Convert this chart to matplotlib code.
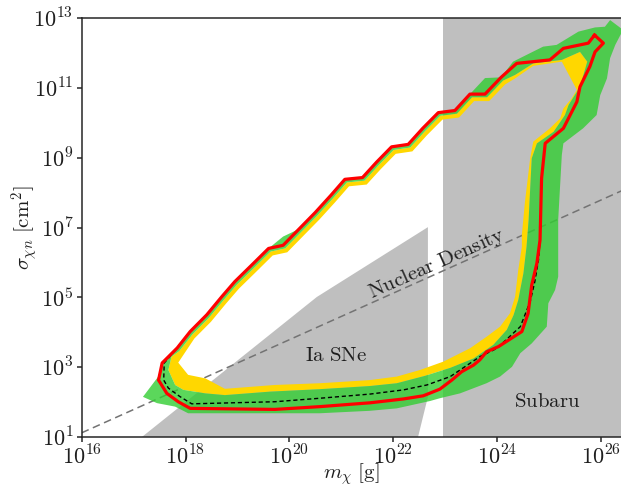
import numpy as np
import matplotlib
matplotlib.use('Agg')
import matplotlib.pyplot as plt
from matplotlib.path import Path
from matplotlib.patches import PathPatch, Polygon
from matplotlib.ticker import FixedLocator, FuncFormatter, NullLocator

plt.rcParams['mathtext.fontset'] = 'cm'
plt.rcParams['font.family'] = 'serif'

# all values are log10(m_chi / g), log10(sigma / cm^2)

# red contour (closed loop, starts at the top-right tip)
red_logm = [25.88, 25.76, 25.28, 25.02, 24.38, 24.08, 23.77, 23.48, 23.19, 22.87,
            22.57, 22.29, 21.97, 21.68, 21.41, 21.07, 20.80, 20.50, 20.19, 19.88,
            19.60, 19.28, 18.95, 18.70, 18.41, 18.09, 17.84, 17.55, 17.48, 17.64,
            17.86, 18.09, 19.72, 20.59, 21.56, 22.20, 22.58, 22.90, 23.13, 23.32,
            23.55, 23.67, 23.80, 24.03, 24.48, 24.60, 24.67, 24.77, 24.83, 24.86,
            24.93, 25.28, 25.54, 25.60, 25.79, 25.89, 26.05]
red_logs = [12.51, 12.28, 12.13, 11.80, 11.70, 11.30, 10.82, 10.82, 10.35, 10.29,
            9.84, 9.38, 9.31, 8.87, 8.43, 8.38, 7.92, 7.43, 6.96, 6.49,
            6.40, 5.93, 5.45, 5.02, 4.50, 4.02, 3.55, 3.12, 2.63, 2.25,
            2.01, 1.82, 1.79, 1.87, 1.98, 2.09, 2.18, 2.37, 2.63, 2.87,
            3.06, 3.21, 3.44, 3.59, 4.02, 4.54, 5.35, 5.98, 6.64, 8.41,
            9.41, 9.84, 10.60, 11.03, 11.61, 12.03, 12.28]

# median (dashed): lower branch differs from the red contour
med_low_logm = [17.59, 17.58, 17.67, 17.89, 18.12, 19.72, 20.59, 21.56, 22.20, 22.65,
                23.10, 23.67, 24.00, 24.45, 24.64, 24.73, 24.80]
med_low_logs = [3.12, 2.63, 2.40, 2.16, 1.95, 2.01, 2.11, 2.23, 2.35, 2.49,
                2.73, 3.30, 3.54, 4.16, 4.88, 5.45, 6.07]

# green band, outer edge
green_out_logm = [26.18, 26.08, 25.89, 25.57, 25.15, 24.89, 24.31, 24.08, 23.77, 23.48,
                  23.19, 22.87, 22.57, 22.29, 21.97, 21.68, 21.41, 21.07, 20.80, 20.50,
                  20.19, 19.88, 19.60, 19.28, 18.95, 18.70, 18.41, 18.09, 17.84, 17.55,
                  17.47, 17.18, 17.45, 17.80, 18.05, 19.72, 20.59, 21.55, 22.07, 22.71,
                  22.90, 23.29, 23.80, 24.06, 24.29, 24.45, 24.67, 24.96, 24.99, 25.12,
                  25.18, 25.18, 25.25, 25.28, 25.66, 25.92, 25.99, 26.12, 26.18, 26.28,
                  26.43]
green_out_logs = [12.94, 12.75, 12.73, 12.61, 12.23, 12.18, 11.75, 11.30, 11.28, 10.82,
                  10.35, 10.29, 9.84, 9.38, 9.31, 8.87, 8.43, 8.38, 7.92, 7.43,
                  6.96, 6.74, 6.40, 5.93, 5.45, 5.02, 4.50, 4.02, 3.55, 3.12,
                  2.72, 2.15, 1.97, 1.87, 1.68, 1.68, 1.68, 1.75, 1.82, 2.03,
                  2.11, 2.25, 2.54, 2.73, 3.01, 3.40, 3.68, 4.16, 4.83, 5.21,
                  5.59, 7.22, 9.08, 9.41, 9.84, 10.22, 10.79, 11.27, 11.85, 12.23,
                  12.66]

# green band, inner edge (= yellow band, outer edge)
green_in_logm = [25.60, 25.74, 25.60, 25.38, 25.31, 25.09, 24.77, 24.67, 24.61, 24.57,
                 24.51, 24.41, 24.32, 24.19, 23.93, 23.55, 23.10, 22.61, 22.07, 21.55,
                 20.59, 19.63, 18.76, 18.38, 17.96, 17.80, 17.67, 17.73, 17.88, 18.13,
                 18.45, 18.74, 18.99, 19.32, 19.64, 19.92, 20.23, 20.54, 20.84, 21.11,
                 21.45, 21.72, 22.01, 22.33, 22.61, 22.91, 23.23, 23.52, 23.81, 24.12,
                 24.35, 24.70, 25.25]
green_in_logs = [12.03, 11.75, 11.03, 10.51, 10.22, 9.74, 9.41, 8.98, 7.22, 6.45,
                 5.69, 4.92, 4.49, 4.07, 3.64, 3.25, 2.98, 2.75, 2.54, 2.46,
                 2.37, 2.30, 2.20, 2.25, 2.35, 2.49, 2.92, 3.30, 3.46, 3.93,
                 4.41, 4.93, 5.36, 5.84, 6.31, 6.40, 6.87, 7.34, 7.83, 8.29,
                 8.34, 8.78, 9.22, 9.29, 9.75, 10.20, 10.26, 10.73, 10.73, 11.21,
                 11.37, 11.70, 11.80]

# yellow band, inner edge
yellow_in_logm = [25.54, 25.44, 25.28, 25.22, 25.02, 24.70, 24.64, 24.54, 24.48, 24.48,
                  24.41, 24.35, 24.25, 24.06, 23.80, 23.48, 22.97, 22.52, 22.07, 21.55,
                  20.59, 19.72, 18.76, 18.38, 18.05, 17.86, 18.17, 18.49, 18.78, 19.03,
                  19.36, 19.68, 19.96, 20.27, 20.58, 20.88, 21.15, 21.49, 21.76, 22.05,
                  22.37, 22.65, 22.95, 23.27, 23.56, 23.85, 24.16, 24.35, 24.70, 25.25]
yellow_in_logs = [10.94, 10.70, 10.41, 10.13, 9.84, 9.46, 8.98, 7.74, 6.79, 6.45,
                  5.78, 5.02, 4.54, 4.16, 3.87, 3.54, 3.16, 2.92, 2.73, 2.63,
                  2.54, 2.49, 2.38, 2.68, 2.78, 3.13, 3.82, 4.30, 4.82, 5.25,
                  5.73, 6.20, 6.29, 6.76, 7.23, 7.72, 8.18, 8.23, 8.67, 9.11,
                  9.18, 9.64, 10.09, 10.15, 10.62, 10.62, 11.10, 11.27, 11.63, 11.75]

# excluded regions
ia_logm = [17.16, 20.53, 22.67, 22.67, 22.48]
ia_logs = [1.0, 5.01, 7.01, 2.15, 1.0]
subaru_logm = [22.96, 27.0]

# nuclear density line
nuc_logm = [16.0, 26.4]
nuc_logs = [1.12, 8.05]


def ring(ax, om, os_, im, is_, **kw):
    om, os_, im, is_ = map(np.asarray, (om, os_, im, is_))
    a_out = np.sum(om * np.roll(os_, -1) - np.roll(om, -1) * os_)
    a_in = np.sum(im * np.roll(is_, -1) - np.roll(im, -1) * is_)
    if np.sign(a_out) == np.sign(a_in):
        im, is_ = im[::-1], is_[::-1]
    verts, codes = [], []
    for xs, ys in ((om, os_), (im, is_)):
        pts = list(zip(10.0 ** xs, 10.0 ** ys))
        verts += pts + [pts[0]]
        codes += [Path.MOVETO] + [Path.LINETO] * (len(pts) - 1) + [Path.CLOSEPOLY]
    ax.add_patch(PathPatch(Path(verts, codes), **kw))


fig = plt.figure(figsize=(6.21, 4.91), dpi=100)
ax = fig.add_axes([81.7 / 621, 1 - 437 / 491, (621 - 81.7) / 621, (437 - 18) / 491])
ax.set_xscale('log')
ax.set_yscale('log')
ax.set_xlim(1e16, 10 ** 26.39)
ax.set_ylim(1e1, 1e13)

grey = '#bfbfbf'
ax.add_patch(Polygon(list(zip(10.0 ** np.array(ia_logm), 10.0 ** np.array(ia_logs))),
                     closed=True, facecolor=grey, edgecolor='none', zorder=1))
ax.axvspan(10 ** subaru_logm[0], 10 ** subaru_logm[1], facecolor=grey, edgecolor='none', zorder=1)

ax.plot(10.0 ** np.array(nuc_logm), 10.0 ** np.array(nuc_logs), color='0.45', lw=1.1,
        ls=(0, (5, 3)), zorder=1.5)

ring(ax, green_in_logm, green_in_logs, yellow_in_logm, yellow_in_logs,
     facecolor='#ffd700', edgecolor='none', zorder=2)
ring(ax, green_out_logm, green_out_logs, green_in_logm, green_in_logs,
     facecolor='#32cd32', alpha=0.8, edgecolor='none', zorder=2.1)

med_m = red_logm[:27] + med_low_logm + red_logm[48:]
med_s = red_logs[:27] + med_low_logs + red_logs[48:]
ax.plot(10.0 ** np.array(med_m), 10.0 ** np.array(med_s), color='black', lw=1.0,
        ls=(0, (3, 2)), zorder=3)

rm = np.array(red_logm + red_logm[:1])
rs = np.array(red_logs + red_logs[:1])
ax.plot(10.0 ** rm, 10.0 ** rs, color='red', lw=2.3, zorder=4)

txt_kw = dict(fontsize=15, color='0.12', zorder=5)
ax.text(10 ** 20.90, 10 ** 3.32, r'$\mathrm{Ia\ SNe}$', ha='center', va='center', **txt_kw)
ax.text(10 ** 24.97, 10 ** 2.02, r'$\mathrm{Subaru}$', ha='center', va='center', **txt_kw)
ax.text(10 ** 22.85, 10 ** 5.96, r'$\mathrm{Nuclear\ Density}$', ha='center', va='center',
        rotation=24, rotation_mode='anchor', **txt_kw)

fmt = FuncFormatter(lambda v, p: r'$10^{%d}$' % int(round(np.log10(v))))
ax.xaxis.set_major_locator(FixedLocator([1e16, 1e18, 1e20, 1e22, 1e24, 1e26]))
ax.yaxis.set_major_locator(FixedLocator([1e1, 1e3, 1e5, 1e7, 1e9, 1e11, 1e13]))
ax.xaxis.set_major_formatter(fmt)
ax.yaxis.set_major_formatter(fmt)
ax.xaxis.set_minor_locator(NullLocator())
ax.yaxis.set_minor_locator(NullLocator())
ax.tick_params(which='major', direction='out', length=3.5, width=1.1, pad=2.5,
               labelsize=16, color='0.15', labelcolor='0.12')

for side in ('left', 'bottom', 'top'):
    ax.spines[side].set_color('0.15')
    ax.spines[side].set_linewidth(1.1)
ax.spines['right'].set_visible(False)

ax.set_xlabel(r'$m_\chi\ [\mathrm{g}]$', fontsize=15, color='0.12')
ax.set_ylabel(r'$\sigma_{\chi n}\ [\mathrm{cm}^2]$', fontsize=15, color='0.12')
ax.xaxis.set_label_coords(0.5, -0.058)
ax.yaxis.set_label_coords(-0.077, 0.5)

fig.savefig('out.png', dpi=100)
